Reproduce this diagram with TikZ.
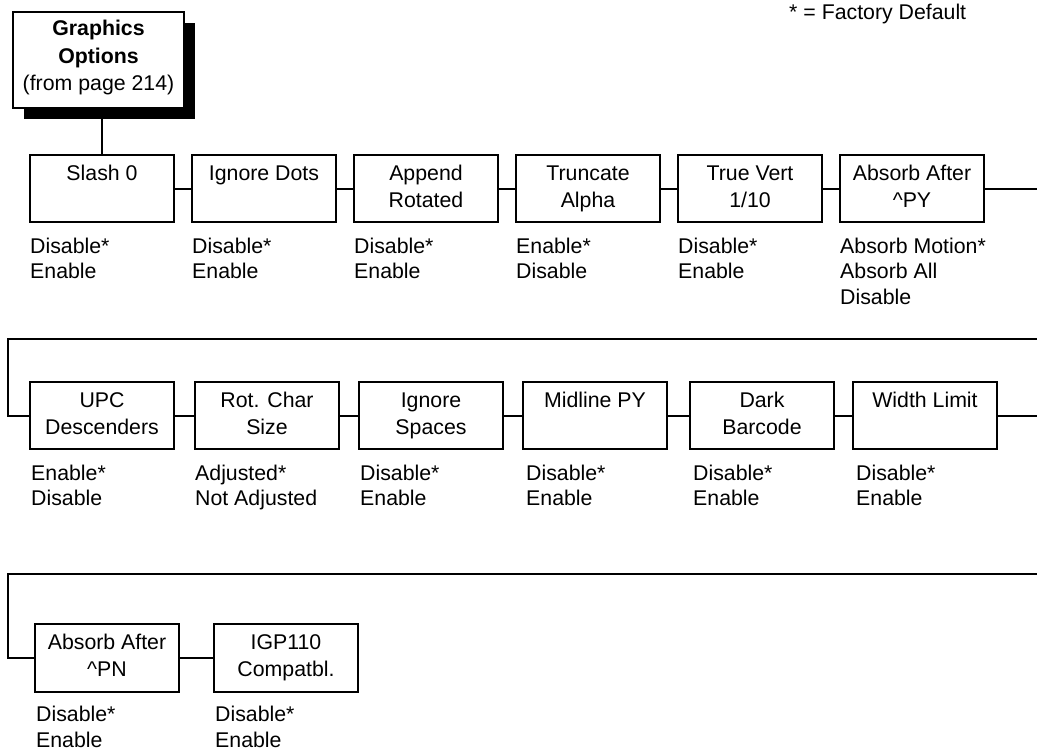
\documentclass[tikz,border=0pt]{standalone}
\usepackage{fontspec}
\setmainfont{Liberation Sans}
\usetikzlibrary{shadows}
\newcommand\menutitle[1]{\parbox[c][67pt][t]{144pt}{\centering\fontsize{21.3}{27}\selectfont\rule{0pt}{25pt}#1\par}}
\newcommand\choicetext[1]{\rule{0pt}{30pt}#1}
\tikzset{
  lw/.style={line width=2pt},
  menubox/.style={draw, lw, rectangle, inner sep=0pt, minimum width=144pt, minimum height=67pt, anchor=north west},
  conn/.style={lw},
  choices/.style={anchor=north west, inner sep=0pt, align=left, font=\fontsize{21.3}{25.5}\selectfont},
}
\begin{document}
\begin{tikzpicture}[x=1pt,y=-1pt]
\useasboundingbox (0,0) rectangle (1037,750);

% header
\node[anchor=base west, inner sep=0pt, font=\fontsize{21.3}{25}\selectfont] (legend) at (789,19.5) {* = Factory Default};

\node[draw, lw, fill=white, rectangle, inner sep=0pt, minimum width=171pt, minimum height=96pt, anchor=north west,
      drop shadow={shadow xshift=11pt, shadow yshift=-11pt, opacity=1, fill=black}] (top) at (12,11)
  {\parbox[c][96pt][t]{171pt}{\centering\fontsize{21.3}{27.5}\selectfont\rule{0pt}{23.5pt}\textbf{Graphics}\\\textbf{Options}\\(from page 214)\par}};

% row 1
\node[menubox] (s1) at (29,154)  {\menutitle{Slash 0}};
\node[menubox] (s2) at (191,154) {\menutitle{Ignore Dots}};
\node[menubox] (s3) at (353,154) {\menutitle{Append\\Rotated}};
\node[menubox] (s4) at (515,154) {\menutitle{Truncate\\Alpha}};
\node[menubox] (s5) at (677,154) {\menutitle{True Vert\\1/10}};
\node[menubox] (s6) at (839,154) {\menutitle{Absorb After\\\textasciicircum PY}};

\node[choices, xshift=1pt] (c1) at (s1.south west) {\choicetext{Disable*}\\Enable};
\node[choices, xshift=1pt] (c2) at (s2.south west) {\choicetext{Disable*}\\Enable};
\node[choices, xshift=1pt] (c3) at (s3.south west) {\choicetext{Disable*}\\Enable};
\node[choices, xshift=1pt] (c4) at (s4.south west) {\choicetext{Enable*}\\Disable};
\node[choices, xshift=1pt] (c5) at (s5.south west) {\choicetext{Disable*}\\Enable};
\node[choices, xshift=1pt] (c6) at (s6.south west) {\choicetext{Absorb Motion*}\\Absorb All\\Disable};

% row 2
\node[menubox] (u1) at (29,381)  {\menutitle{UPC\\Descenders}};
\node[menubox] (u2) at (194,381) {\menutitle{Rot. Char\\Size}};
\node[menubox] (u3) at (358,381) {\menutitle{Ignore\\Spaces}};
\node[menubox] (u4) at (522,381) {\menutitle{Midline PY}};
\node[menubox] (u5) at (689,381) {\menutitle{Dark\\Barcode}};
\node[menubox] (u6) at (852,381) {\menutitle{Width Limit}};

\node[choices, xshift=2pt] (d1) at (u1.south west) {\choicetext{Enable*}\\Disable};
\node[choices, xshift=1pt] (d2) at (u2.south west) {\choicetext{Adjusted*}\\Not Adjusted};
\node[choices, xshift=2pt] (d3) at (u3.south west) {\choicetext{Disable*}\\Enable};
\node[choices, xshift=4pt] (d4) at (u4.south west) {\choicetext{Disable*}\\Enable};
\node[choices, xshift=4pt] (d5) at (u5.south west) {\choicetext{Disable*}\\Enable};
\node[choices, xshift=4pt] (d6) at (u6.south west) {\choicetext{Disable*}\\Enable};

% row 3
\node[menubox, minimum height=68pt] (a1) at (34,623)  {\menutitle{Absorb After\\\textasciicircum PN}};
\node[menubox, minimum height=68pt] (a2) at (213,623) {\menutitle{IGP110\\Compatbl.}};

\node[choices, xshift=2pt, yshift=1.5pt] (e1) at (a1.south west) {\choicetext{Disable*}\\Enable};
\node[choices, xshift=2pt, yshift=1.5pt] (e2) at (a2.south west) {\choicetext{Disable*}\\Enable};

% connectors
\coordinate (R) at (1037,0);
\coordinate (w1r) at (1037,339);
\coordinate (w1l) at (8,339);
\coordinate (w2r) at (1037,574);
\coordinate (w2l) at (8,574);

\draw[conn] (s1.north) -- (s1.north |- top.south);
\draw[conn] (s1) -- (s2);
\draw[conn] (s2) -- (s3);
\draw[conn] (s3) -- (s4);
\draw[conn] (s4) -- (s5);
\draw[conn] (s5) -- (s6);
\draw[conn] (s6.east) -- (s6.east -| R);
\draw[conn] (w1r) -- (w1l) |- (u1.west);
\draw[conn] (u1) -- (u2);
\draw[conn] (u2) -- (u3);
\draw[conn] (u3) -- (u4);
\draw[conn] (u4) -- (u5);
\draw[conn] (u5) -- (u6);
\draw[conn] (u6.east) -- (u6.east -| R);
\draw[conn] (w2r) -- (w2l) |- (a1.west);
\draw[conn] (a1) -- (a2);
\end{tikzpicture}
\end{document}
